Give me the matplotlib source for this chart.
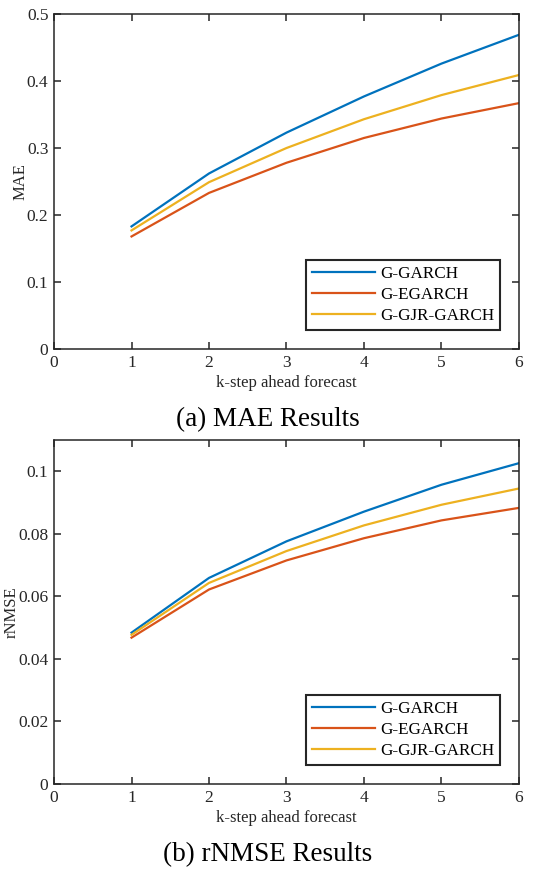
import matplotlib
matplotlib.use("Agg")
import matplotlib.pyplot as plt

plt.rcParams['font.family'] = ['Liberation Serif', 'DejaVu Serif']
plt.rcParams['mathtext.fontset'] = 'stix'

# k-step ahead horizons
steps = [1, 2, 3, 4, 5, 6]
labels = ['G-GARCH', 'G-EGARCH', 'G-GJR-GARCH']
colors = ['#0072BD', '#D95319', '#EDB120']

# MAE results
mae_garch = [0.183, 0.262, 0.323, 0.377, 0.426, 0.469]
mae_egarch = [0.168, 0.233, 0.278, 0.315, 0.344, 0.367]
mae_gjr = [0.177, 0.249, 0.300, 0.343, 0.379, 0.409]

# rNMSE results
rnmse_garch = [0.0484, 0.0659, 0.0776, 0.0871, 0.0957, 0.1026]
rnmse_egarch = [0.0468, 0.0622, 0.0715, 0.0786, 0.0843, 0.0883]
rnmse_gjr = [0.0477, 0.0643, 0.0745, 0.0827, 0.0893, 0.0945]

fig = plt.figure(figsize=(5.35, 8.71), dpi=100)
ax1 = fig.add_axes([0.101, 0.5993, 0.869, 0.3846])
ax2 = fig.add_axes([0.101, 0.0999, 0.869, 0.3949])

def style(ax, series, ylabel, ylim, yticks, yticklabels):
    for s, lab, c in zip(series, labels, colors):
        ax.plot(steps, s, color=c, lw=1.6, label=lab)
    ax.set_xlim(0, 6)
    ax.set_ylim(*ylim)
    ax.set_xticks(range(0, 7))
    ax.set_yticks(yticks)
    ax.set_yticklabels(yticklabels)
    ax.tick_params(direction='in', top=True, right=True, length=5,
                   width=1.1, labelsize=12.5, colors='#262626', pad=4)
    for sp in ax.spines.values():
        sp.set_linewidth(1.1)
        sp.set_color('#262626')
    ax.set_xlabel('k-step ahead forecast', fontsize=12, color='#262626', labelpad=3)
    ax.set_ylabel(ylabel, fontsize=12, color='#262626', labelpad=-1)
    leg = ax.legend(loc='lower right', fontsize=12.3, handlelength=3.7,
                    fancybox=False, framealpha=1, borderaxespad=1.1,
                    borderpad=0.35, labelspacing=0.3, handletextpad=0.3)
    leg.get_frame().set_edgecolor('#262626')
    leg.get_frame().set_linewidth(1.5)

style(ax1, [mae_garch, mae_egarch, mae_gjr], 'MAE', (0, 0.5),
      [0, 0.1, 0.2, 0.3, 0.4, 0.5], ['0', '0.1', '0.2', '0.3', '0.4', '0.5'])
style(ax2, [rnmse_garch, rnmse_egarch, rnmse_gjr], 'rNMSE', (0, 0.11),
      [0, 0.02, 0.04, 0.06, 0.08, 0.1], ['0', '0.02', '0.04', '0.06', '0.08', '0.1'])

fig.text(0.5, 1 - 420 / 871, '(a) MAE Results', ha='center', va='center', fontsize=19.5)
fig.text(0.5, 1 - 855 / 871, '(b) rNMSE Results', ha='center', va='center', fontsize=19.5)

fig.savefig('out.png', dpi=100)
